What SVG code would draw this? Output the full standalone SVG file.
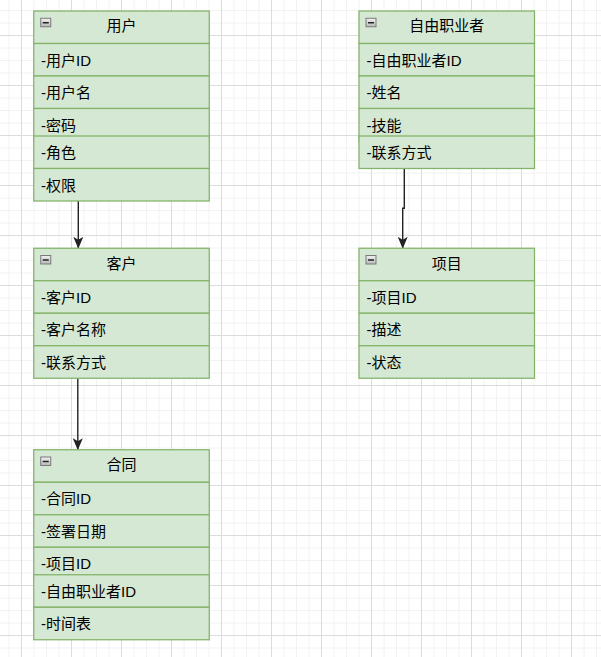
<svg xmlns="http://www.w3.org/2000/svg" width="601" height="657" viewBox="0 0 601 657">
<defs>
<pattern id="grid" x="21" y="35" width="50" height="50" patternUnits="userSpaceOnUse">
<path d="M13 0V50M25.5 0V50M38 0V50M0 13H50M0 25.5H50M0 38H50" stroke="#f2f2f2" stroke-width="1" fill="none"/>
<path d="M0.5 0V50M0 0.5H50" stroke="#dcdcdc" stroke-width="1" fill="none"/>
</pattern>
<linearGradient id="ig" x1="0" y1="0" x2="0" y2="1">
<stop offset="0" stop-color="#f2f2f2"/>
<stop offset="1" stop-color="#b8b8b8"/>
</linearGradient>
<marker id="arr" viewBox="0 0 12 10" refX="11.5" refY="5" markerWidth="12" markerHeight="10" markerUnits="userSpaceOnUse" orient="auto">
<path d="M0,0 L12,5 L0,10 L3,5 Z" fill="#222"/>
</marker>
<g id="icon">
<rect x="0.5" y="0.5" width="10" height="8.5" fill="url(#ig)" stroke="#7a7a7a" stroke-width="1"/>
<path d="M2.5 5H8.5" stroke="#222" stroke-width="1.5"/>
</g>
</defs>
<style>
.box{fill:#d5e8d4;stroke:#82b366;stroke-width:1.25}
.t{font-family:"Liberation Sans","Noto Sans CJK SC",sans-serif;font-size:15px;fill:#000}
.h{text-anchor:middle}
.c{fill:none;stroke:#222;stroke-width:1.4}
</style>
<rect width="601" height="657" fill="#ffffff"/>
<rect width="601" height="657" fill="url(#grid)"/>

<g id="connectors">
<path class="c" d="M78.3,201 V248.3" marker-end="url(#arr)"/>
<path class="c" d="M77.8,378.3 V449.7" marker-end="url(#arr)"/>
<path class="c" d="M404.3,168.5 V208.3 H402.7 V248.3" marker-end="url(#arr)"/>
</g>

<g id="node-user">
<rect class="box" x="33.75" y="11" width="175.5" height="32.5"/>
<use href="#icon" x="40.25" y="17.75"/>
<text class="t h" x="121.5" y="31.4">用户</text>
<rect class="box" x="33.75" y="43.5" width="175.5" height="32.5"/>
<text class="t" x="41" y="65.6">-用户ID</text>
<rect class="box" x="33.75" y="76" width="175.5" height="32.5"/>
<text class="t" x="41" y="98.1">-用户名</text>
<rect class="box" x="33.75" y="108.5" width="175.5" height="32.5"/>
<text class="t" x="41" y="130.6">-密码</text>
<rect class="box" x="33.75" y="136" width="175.5" height="32.5"/>
<text class="t" x="41" y="158.1">-角色</text>
<rect class="box" x="33.75" y="168.5" width="175.5" height="32.5"/>
<text class="t" x="41" y="190.6">-权限</text>
</g>

<g id="node-freelancer">
<rect class="box" x="359" y="11" width="175.5" height="32.5"/>
<use href="#icon" x="365.5" y="17.75"/>
<text class="t h" x="446.75" y="31.4">自由职业者</text>
<rect class="box" x="359" y="43.5" width="175.5" height="32.5"/>
<text class="t" x="366.5" y="65.6">-自由职业者ID</text>
<rect class="box" x="359" y="76" width="175.5" height="32.5"/>
<text class="t" x="366.5" y="98.1">-姓名</text>
<rect class="box" x="359" y="108.5" width="175.5" height="32.5"/>
<text class="t" x="366.5" y="130.6">-技能</text>
<rect class="box" x="359" y="136" width="175.5" height="32.5"/>
<text class="t" x="366.5" y="158.1">-联系方式</text>
</g>

<g id="node-customer">
<rect class="box" x="33.75" y="248.25" width="175.5" height="32.5"/>
<use href="#icon" x="40.25" y="255"/>
<text class="t h" x="121.5" y="268.65">客户</text>
<rect class="box" x="33.75" y="280.75" width="175.5" height="32.5"/>
<text class="t" x="41" y="302.85">-客户ID</text>
<rect class="box" x="33.75" y="313.25" width="175.5" height="32.5"/>
<text class="t" x="41" y="335.35">-客户名称</text>
<rect class="box" x="33.75" y="345.75" width="175.5" height="32.5"/>
<text class="t" x="41" y="367.85">-联系方式</text>
</g>

<g id="node-project">
<rect class="box" x="359" y="248.25" width="175.5" height="32.5"/>
<use href="#icon" x="365.5" y="255"/>
<text class="t h" x="446.75" y="268.65">项目</text>
<rect class="box" x="359" y="280.75" width="175.5" height="32.5"/>
<text class="t" x="366.5" y="302.85">-项目ID</text>
<rect class="box" x="359" y="313.25" width="175.5" height="32.5"/>
<text class="t" x="366.5" y="335.35">-描述</text>
<rect class="box" x="359" y="345.75" width="175.5" height="32.5"/>
<text class="t" x="366.5" y="367.85">-状态</text>
</g>

<g id="node-contract">
<rect class="box" x="33.75" y="449.75" width="175.5" height="32.5"/>
<use href="#icon" x="40.25" y="456.5"/>
<text class="t h" x="121.5" y="470.15">合同</text>
<rect class="box" x="33.75" y="482.25" width="175.5" height="32.5"/>
<text class="t" x="41" y="504.35">-合同ID</text>
<rect class="box" x="33.75" y="514.75" width="175.5" height="32.5"/>
<text class="t" x="41" y="536.85">-签署日期</text>
<rect class="box" x="33.75" y="547.25" width="175.5" height="32.5"/>
<text class="t" x="41" y="569.35">-项目ID</text>
<rect class="box" x="33.75" y="574.75" width="175.5" height="32.5"/>
<text class="t" x="41" y="596.85">-自由职业者ID</text>
<rect class="box" x="33.75" y="607.25" width="175.5" height="32.5"/>
<text class="t" x="41" y="629.35">-时间表</text>
</g>
</svg>
